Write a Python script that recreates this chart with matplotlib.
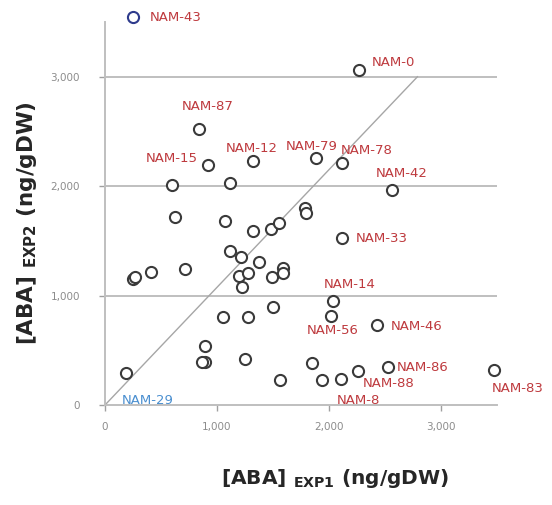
import numpy as np
import matplotlib
matplotlib.use("Agg")
import matplotlib.pyplot as plt

# [ABA] values (ng/gDW)
exp1 = [250, 2268, 839, 920, 1321, 1884, 2116, 2563, 598, 1116,
        625, 1071, 1321, 1482, 1554, 1786, 1795, 2116, 1116, 1214,
        1375, 1196, 1277, 1223, 1491, 1589, 1589, 714, 411, 250,
        268, 2036, 2018, 1500, 1054, 1277, 893, 893, 866, 1250,
        188, 1563, 2429, 1848, 1938, 2107, 2259, 2527, 3473]
exp2 = [3543, 3059, 2521, 2192, 2228, 2256, 2210, 1963, 2009, 2027,
        1717, 1680, 1589, 1607, 1662, 1799, 1753, 1525, 1406, 1352,
        1306, 1178, 1205, 1078, 1169, 1251, 1205, 1242, 1215, 1151,
        1169, 950, 813, 895, 804, 804, 539, 393, 393, 420,
        292, 232, 731, 384, 228, 237, 311, 347, 320]
names = ["NAM-43", "NAM-0", "NAM-87", "NAM-15", "NAM-12", "NAM-79", "NAM-78", "NAM-42",
         "", "", "", "", "", "", "", "", "", "NAM-33", "", "",
         "", "", "", "", "", "", "", "", "", "",
         "", "NAM-14", "NAM-56", "", "", "", "", "", "", "",
         "NAM-29", "", "NAM-46", "", "", "NAM-8", "NAM-88", "NAM-86", "NAM-83"]

ticks = [0, 1000, 2000, 3000]
tick_labels = ["0", "1,000", "2,000", "3,000"]

# label placement: (dx px, dy px, ha)
offsets = {
    "NAM-43": (17, 0, "left"), "NAM-0": (13, 8, "left"), "NAM-87": (9, 23, "center"),
    "NAM-15": (-10, 7, "right"), "NAM-12": (-1, 13, "center"), "NAM-79": (-4, 12, "center"),
    "NAM-78": (-1, 13, "left"), "NAM-42": (10, 17, "center"), "NAM-33": (14, 0, "left"),
    "NAM-14": (-9, 17, "left"), "NAM-56": (2, -14, "center"), "NAM-46": (14, -1, "left"),
    "NAM-86": (9, 0, "left"), "NAM-88": (5, -13, "left"), "NAM-8": (-4, -21, "left"),
    "NAM-83": (24, -19, "center"), "NAM-29": (-4, -27, "left"),
}

red = "#BE3A3E"
blue = "#4A8FD0"
grey = "#BFBFBF"

fig = plt.figure(figsize=(5.52, 5.05), dpi=100)
ax = fig.add_axes([0.1902, 0.198, 0.7101, 0.7584])

for t in ticks[1:]:
    ax.axhline(t, color=grey, lw=1.4, zorder=1)

# fitted / reference line
ax.plot([0, 2790], [0, 3000], color="#A6A6A6", lw=1.0, zorder=2)

for i, (x, y) in enumerate(zip(exp1, exp2)):
    ec = "#2E3B8C" if names[i] == "NAM-43" else "#3A3A3A"
    ax.plot(x, y, "o", ms=8, mfc="white", mec=ec, mew=1.5, zorder=3, clip_on=False)
    if names[i]:
        dx, dy, ha = offsets[names[i]]
        col = blue if names[i] == "NAM-29" else red
        ax.annotate(names[i], (x, y), xytext=(dx, dy), textcoords="offset pixels",
                    ha=ha, va="center", fontsize=9.5, color=col, annotation_clip=False)

ax.set_xlim(0, 3500)
ax.set_ylim(0, 3500)
ax.set_xticks(ticks)
ax.set_xticklabels(tick_labels)
ax.set_yticks(ticks)
ax.set_yticklabels(tick_labels)
ax.tick_params(colors="#A0A0A0", labelcolor="#8C8C8C", labelsize=7.5, length=4, width=1)
ax.tick_params(axis="x", pad=8)
ax.tick_params(axis="y", pad=14)

for s in ["top", "right"]:
    ax.spines[s].set_visible(False)
for s in ["left", "bottom"]:
    ax.spines[s].set_color(grey)
    ax.spines[s].set_linewidth(1.4)

# axis titles
fig.text(335 / 552, 1 - 478 / 505, r"[ABA] $_{\mathbf{EXP1}}$ (ng/gDW)", fontsize=14.5,
         fontweight="bold", color="#262626", ha="center", va="center")
fig.text(27 / 552, 1 - 223 / 505, r"[ABA] $_{\mathbf{EXP2}}$ (ng/gDW)", fontsize=15.5,
         fontweight="bold", color="#262626", ha="center", va="center", rotation=90)

fig.savefig("out.png", dpi=100, facecolor="white")
